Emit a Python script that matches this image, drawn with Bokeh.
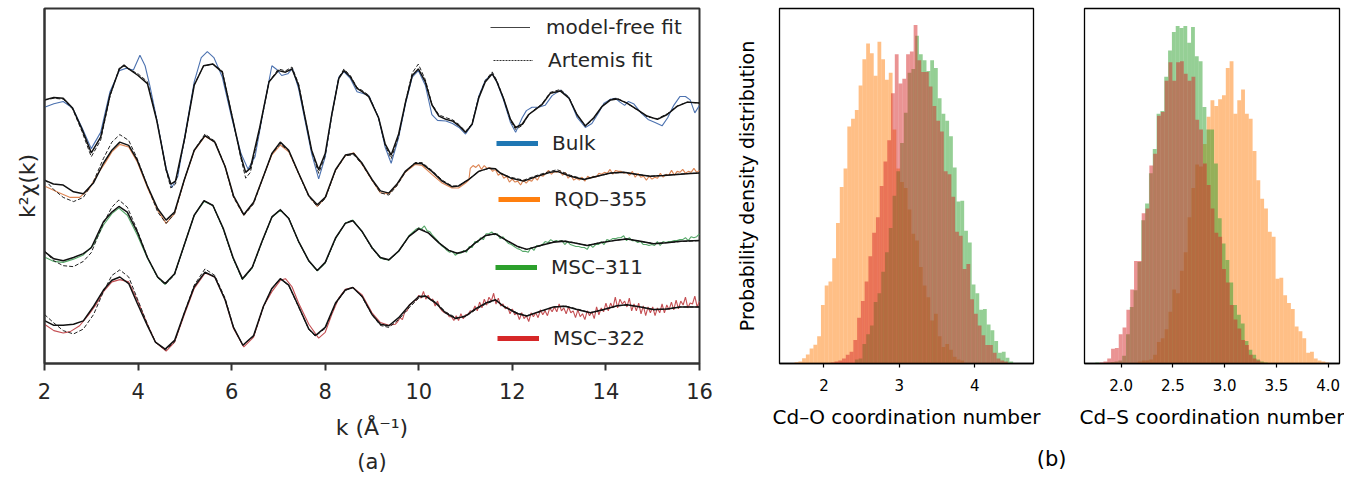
import numpy as np
from bokeh.plotting import figure
from bokeh.models import Legend, LegendItem, Title, FixedTicker, PrintfTickFormatter
from bokeh.layouts import row
from bokeh.embed import file_html
from bokeh.resources import INLINE

FONT = "DejaVu Sans"

# ---------------- panel (a): k^2 chi(k) spectra (arbitrary units) ----------------
offsets = {"Bulk": 26.4, "RQD-355": 19.4, "MSC-311": 12.4, "MSC-322": 5.6}

bulk_k = [2.0, 2.2, 2.4, 2.6, 2.8, 3.0, 3.2, 3.4, 3.6, 3.7, 3.8, 4.0, 4.2, 4.4, 4.6, 4.7, 4.8, 5.0, 5.2, 5.4,
          5.6, 5.8, 6.0, 6.2, 6.3, 6.4, 6.6, 6.8, 7.0, 7.15, 7.29, 7.43, 7.57, 7.71, 7.86, 8.0, 8.14, 8.29, 8.4, 8.54,
          8.68, 8.79, 8.93, 9.14, 9.28, 9.41, 9.57, 9.72, 9.86, 9.99, 10.14, 10.28, 10.43, 10.58, 10.72, 10.86, 11.0,
          11.14, 11.28, 11.42, 11.57, 11.67, 11.81, 11.96, 12.07, 12.21, 12.35, 12.49, 12.63, 12.81, 13.03, 13.21,
          13.38, 13.56, 13.74, 13.92, 14.1, 14.24, 14.45, 14.67, 14.88, 15.1, 15.31, 15.52, 15.74, 16.0]
bulk_fit = [0.63, 0.87, 0.8, -0.2, -2.37, -4.8, -3.2, 1.13, 3.8, 4.2, 3.8, 3.13, 2.3, -1.5, -6.5, -8.0, -7.7, -3.2,
            2.13, 4.13, 4.3, 3.47, -0.87, -5.2, -6.8, -6.37, -2.2, 2.5, 3.63, 3.47, 3.8, 2.13, -1.2, -4.53, -6.53,
            -4.87, -0.87, 2.8, 3.63, 2.97, 1.8, 1.47, 0.97, -1.2, -3.87, -5.03, -2.87, 0.47, 3.13, 3.8, 2.47, 0.13,
            -1.03, -1.37, -1.53, -2.03, -2.7, -1.87, 0.8, 2.47, 3.3, 2.47, 0.8, -1.37, -2.2, -1.87, -0.87, -0.37,
            0.13, 1.3, 1.53, 0.8, -0.87, -2.03, -1.2, -0.03, 0.63, 0.73, 0.3, -0.37, -1.03, -1.37, -0.87, -0.03,
            0.4, 0.3]
bulk_art = [0.6, 0.8, 0.7, -0.3, -2.6, -5.2, -3.5, 1.0, 3.9, 4.1, 3.8, 3.3, 2.5, -1.4, -6.6, -8.4, -8.0, -3.3, 2.2,
            4.1, 4.3, 3.6, -0.8, -5.4, -7.4, -6.8, -2.4, 2.5, 3.8, 3.6, 4.0, 2.3, -1.2, -4.6, -6.9, -5.1, -1.0, 2.9,
            3.8, 3.1, 1.9, 1.6, 1.1, -1.2, -4.0, -5.4, -3.1, 0.5, 3.4, 4.3, 2.7, 0.2, -0.9, -1.2, -1.4, -1.9, -2.6,
            -1.8, 0.9, 2.6, 3.5, 2.6, 0.8, -1.5, -2.4, -2.0, -0.9, -0.3, 0.2, 1.4, 1.7, 0.9, -0.9, -2.1, -1.3, 0.0,
            0.7, 0.8, 0.3, -0.4, -1.1, -1.3, -0.8, 0.0, 0.4, 0.3]
bulk_data_k = [2.0, 2.2, 2.4, 2.6, 2.8, 3.0, 3.2, 3.4, 3.6, 3.75, 3.9, 4.04, 4.15, 4.25, 4.4, 4.6, 4.72, 4.85, 5.0,
               5.2, 5.35, 5.48, 5.62, 5.8, 6.0, 6.2, 6.35, 6.5, 6.7, 6.86, 6.95, 7.07, 7.2, 7.3, 7.43, 7.57, 7.71,
               7.86, 8.0, 8.14, 8.29, 8.4, 8.54, 8.68, 8.79, 8.93, 9.14, 9.28, 9.41, 9.57, 9.72, 9.86, 9.99, 10.14,
               10.28, 10.4, 10.58, 10.72, 10.86, 11.0, 11.14, 11.28, 11.42, 11.57, 11.67, 11.81, 11.96, 12.07, 12.21,
               12.3, 12.42, 12.56, 12.7, 12.85, 13.03, 13.21, 13.38, 13.56, 13.7, 13.85, 13.96, 14.1, 14.2, 14.3,
               14.4, 14.48, 14.6, 14.75, 14.9, 15.05, 15.2, 15.32, 15.45, 15.58, 15.7, 15.8, 15.9, 16.0]
bulk_data = [-0.13, 0.23, 0.47, -0.2, -2.2, -4.37, -2.7, 1.47, 3.63, 3.87, 3.7, 5.2, 4.13, 2.13, -1.37, -6.37, -8.37,
             -7.2, -3.03, 2.47, 4.97, 5.57, 4.97, 2.97, -1.2, -4.87, -6.47, -5.2, 0.13, 4.13, 3.8, 3.13, 3.3, 3.87,
             1.8, -1.53, -4.87, -7.47, -5.2, -0.87, 2.97, 3.53, 2.8, 1.47, 1.3, 1.07, -1.2, -4.2, -5.87, -3.2, 0.3,
             2.97, 3.63, 2.13, -0.87, -1.47, -1.53, -1.8, -2.2, -2.87, -1.87, 0.97, 2.63, 3.3, 2.47, 0.63, -1.7,
             -2.7, -1.2, -0.47, -0.13, -0.13, 0.07, 1.07, 1.63, 0.87, -1.13, -2.2, -1.8, -0.63, 0.3, 0.7, 0.8, 0.4,
             0.07, 0.47, 0.2, -0.7, -1.37, -1.7, -2.03, -1.2, 0.07, 0.97, 0.97, 0.63, -0.7, 0.07]

rqd_k = [2.0, 2.19, 2.4, 2.62, 2.83, 3.05, 3.26, 3.44, 3.61, 3.8, 3.98, 4.2, 4.42, 4.6, 4.78, 4.99, 5.2, 5.43, 5.64,
         5.86, 6.04, 6.26, 6.47, 6.68, 6.86, 7.04, 7.22, 7.43, 7.65, 7.83, 8.0, 8.22, 8.43, 8.61, 8.79, 9.0, 9.18,
         9.36, 9.53, 9.71, 9.92, 10.07, 10.28, 10.5, 10.71, 10.85, 11.07, 11.28, 11.5, 11.64, 11.74, 11.96, 12.24,
         12.53, 12.81, 12.96, 13.24, 13.53, 13.81, 14.1, 14.38, 14.67, 14.95, 15.24, 15.52, 15.81, 16.0]
rqd_fit = [-0.6, -1.0, -1.1, -1.8, -2.0, -0.87, 1.13, 2.47, 3.3, 2.97, 1.47, -1.2, -3.53, -4.7, -3.87, -0.53, 2.47,
           3.97, 3.3, 0.8, -2.2, -4.13, -2.87, -0.2, 2.13, 3.3, 2.47, 0.13, -2.2, -3.13, -2.37, 0.47, 1.97, 2.13,
           1.13, -0.53, -1.7, -1.93, -1.03, 0.3, 1.13, 1.07, 0.3, -0.7, -1.27, -1.2, -0.53, 0.3, 0.63, 0.57, 0.13,
           -0.37, -0.7, -0.2, 0.2, 0.3, -0.2, -0.53, -0.2, 0.13, 0.2, -0.03, -0.2, -0.13, -0.03, 0.07, 0.13]
rqd_art = [-0.53, -1.53, -2.37, -2.8, -2.37, -0.7, 1.63, 3.3, 4.07, 3.47, 1.63, -1.2, -3.87, -5.03, -4.03, -0.53,
           2.47, 4.13, 3.4, 0.8, -2.37, -4.23, -3.03, -0.2, 2.1, 3.1, 2.4, 0.1, -2.3, -3.3, -2.5, 0.4, 1.9, 2.0, 1.0,
           -0.6, -1.9, -2.13, -1.2, 0.2, 1.2, 1.2, 0.4, -0.6, -1.2, -1.2, -0.5, 0.3, 0.6, 0.5, 0.1, -0.3, -0.6,
           -0.1, 0.3, 0.47, -0.1, -0.5, -0.2, 0.1, 0.2, 0.0, -0.2, -0.1, 0.0, 0.1, 0.1]
rqd_data_k = [2.0, 2.3, 2.55, 2.75, 2.95, 3.15, 3.3, 3.44, 3.61, 3.8, 3.98, 4.2, 4.42, 4.6, 4.78, 4.99, 5.2, 5.43,
              5.64, 5.86, 6.04, 6.26, 6.47, 6.68, 6.86, 7.04, 7.22, 7.43, 7.65, 7.83, 8.0, 8.22, 8.43, 8.61, 8.79,
              9.0, 9.18, 9.36, 9.53, 9.71, 9.92, 10.07, 10.28, 10.5, 10.71, 10.85, 11.0, 11.07]
rqd_data = [-1.2, -1.87, -2.37, -2.37, -1.53, 0.13, 1.2, 2.3, 3.07, 2.8, 1.3, -1.37, -3.7, -5.03, -4.03, -0.6, 2.4,
            3.9, 3.3, 0.8, -2.3, -4.2, -2.9, -0.2, 2.0, 3.0, 2.3, 0.1, -2.2, -3.3, -2.4, 0.4, 1.9, 2.2, 1.0, -0.6,
            -1.9, -2.0, -1.1, 0.2, 1.0, 0.9, 0.0, -0.9, -1.4, -1.4, -0.9, -0.6]
# noisy high-k part, evenly sampled from 11.1 to 16.0
rqd_noisy = [0.6, 0.9, 0.7, 1.0, 0.5, 0.9, 0.6, 0.7, 0.3, 0.5, -0.1, 0.1, -0.4, -0.2, -0.8, -0.5, -0.8, -0.7, -1.1,
             -0.6, -0.9, -0.6, -0.7, -0.3, -0.6, -0.1, -0.2, 0.1, 0.4, 0.0, 0.3, 0.2, 0.4, -0.1, 0.2, -0.4, -0.1,
             -0.6, -0.4, -0.6, -0.3, -0.7, -0.2, -0.4, -0.2, -0.3, 0.1, 0.0, 0.2, 0.1, 0.5, 0.0, 0.4, 0.3, 0.3, 0.1,
             0.2, -0.1, 0.3, -0.3, 0.1, -0.3, -0.2, -0.6, -0.2, -0.5, -0.3, -0.4, 0.1, -0.3, 0.0, -0.1, 0.4, -0.1,
             0.3, 0.2, 0.5, 0.1, 0.3, 0.2, 0.6, 0.2, 0.4]

m311_k = [2.0, 2.2, 2.4, 2.62, 2.83, 3.0, 3.13, 3.26, 3.44, 3.59, 3.77, 3.98, 4.2, 4.42, 4.58, 4.78, 4.99, 5.2, 5.41,
          5.6, 5.82, 6.03, 6.23, 6.44, 6.65, 6.86, 7.04, 7.22, 7.43, 7.65, 7.83, 8.0, 8.22, 8.43, 8.59, 8.79, 9.0,
          9.18, 9.36, 9.57, 9.79, 10.0, 10.21, 10.43, 10.64, 10.82, 11.0, 11.21, 11.43, 11.64, 11.81, 12.1, 12.31,
          12.6, 12.88, 13.1, 13.31, 13.6, 13.88, 14.17, 14.45, 14.74, 15.02, 15.31, 15.59, 16.0]
m311_fit = [-0.93, -1.67, -1.87, -1.53, -1.13, -0.53, 0.8, 2.13, 3.13, 3.7, 3.13, 1.13, -1.53, -3.53, -4.2, -3.2,
            -0.2, 2.8, 4.3, 3.8, 1.47, -1.53, -3.7, -2.53, 0.13, 2.63, 3.37, 2.47, 0.13, -1.87, -2.87, -2.03, 0.47,
            1.97, 2.23, 1.13, -0.53, -1.53, -1.77, -0.87, 0.63, 1.4, 0.97, -0.03, -0.8, -1.1, -0.87, -0.03, 0.73,
            0.9, 0.4, -0.37, -0.7, -0.3, 0.03, 0.13, -0.03, -0.3, -0.03, 0.2, 0.37, 0.13, -0.13, -0.03, 0.13, 0.2]
m311_art = [-0.87, -1.87, -2.37, -2.47, -1.93, -1.03, 0.5, 1.97, 3.63, 4.37, 3.63, 1.3, -1.5, -3.6, -4.3, -3.3, -0.2,
            2.8, 4.3, 3.8, 1.4, -1.6, -3.8, -2.6, 0.1, 2.6, 3.4, 2.5, 0.1, -1.9, -2.9, -2.1, 0.4, 2.0, 2.3, 1.1,
            -0.6, -1.6, -1.8, -0.9, 0.6, 1.5, 1.0, 0.0, -0.8, -1.1, -0.9, 0.0, 0.7, 0.9, 0.4, -0.4, -0.7, -0.3, 0.1,
            0.2, 0.0, -0.3, 0.0, 0.2, 0.4, 0.1, -0.1, 0.0, 0.1, 0.2]
m311_data_k = [2.0, 2.2, 2.4, 2.62, 2.83, 3.05, 3.26, 3.44, 3.59, 3.77, 3.98, 4.2, 4.42, 4.58, 4.78, 4.99, 5.2,
               5.41, 5.6, 5.82, 6.03, 6.23, 6.44, 6.65, 6.86, 7.04, 7.22, 7.43, 7.65, 7.83, 8.0, 8.22, 8.43, 8.59,
               8.79, 9.0, 9.18, 9.36, 9.57, 9.79, 9.95]
m311_data = [-1.47, -1.93, -2.03, -1.7, -1.27, -0.2, 1.8, 2.97, 3.53, 2.8, 0.8, -1.6, -3.6, -4.3, -3.2, -0.2, 2.8,
             4.2, 3.8, 1.4, -1.6, -3.8, -2.6, 0.1, 2.6, 3.3, 2.5, 0.1, -1.9, -2.9, -2.1, 0.4, 2.0, 2.3, 1.1, -0.5,
             -1.6, -1.8, -0.9, 0.7, 1.4]
# noisy high-k part, evenly sampled from 10.0 to 16.0
m311_noisy = [1.5, 1.4, 1.7, 1.2, 1.1, 0.7, 0.4, 0.1, -0.3, -0.5, -0.8, -1.0, -0.9, -1.3, -1.1, -1.1, -0.8, -1.0,
              -0.4, -0.5, 0.1, 0.0, 0.5, 0.3, 0.9, 0.9, 1.1, 0.8, 0.9, 0.4, 0.6, 0.2, -0.1, -0.2, -0.4, -0.6, -0.7,
              -0.9, -0.9, -1.0, -0.5, -0.8, -0.3, -0.4, -0.2, 0.1, 0.0, 0.3, 0.1, 0.2, 0.1, 0.2, -0.2, 0.1, -0.2,
              -0.3, -0.4, -0.4, -0.5, -0.5, -0.7, -0.2, -0.5, -0.2, -0.2, 0.1, -0.2, 0.3, 0.2, 0.4, 0.4, 0.5, 0.5,
              0.7, 0.2, 0.5, 0.2, 0.2, 0.0, 0.1, -0.2, -0.2, -0.3, -0.2, -0.3, 0.1, -0.3, 0.1, 0.0, 0.1, 0.1, 0.2,
              0.2, 0.3, 0.3, 0.5, 0.2, 0.6, 0.5, 0.6, 0.9]

m322_k = [2.0, 2.19, 2.4, 2.62, 2.83, 3.05, 3.26, 3.44, 3.61, 3.8, 3.98, 4.2, 4.37, 4.58, 4.78, 4.99, 5.2, 5.43,
          5.64, 5.86, 6.04, 6.24, 6.47, 6.68, 6.86, 7.04, 7.22, 7.43, 7.65, 7.79, 8.0, 8.22, 8.43, 8.59, 8.79, 9.0,
          9.18, 9.36, 9.57, 9.79, 10.0, 10.14, 10.36, 10.57, 10.79, 11.0, 11.21, 11.43, 11.64, 11.81, 12.1, 12.31,
          12.6, 12.88, 13.13, 13.38, 13.67, 13.95, 14.24, 14.45, 14.74, 15.02, 15.31, 15.59, 16.0]
m322_fit = [-1.2, -1.67, -1.67, -1.57, -1.23, 0.27, 1.93, 2.93, 3.27, 2.6, 0.6, -1.73, -3.4, -4.13, -3.23, -0.4,
            2.27, 3.77, 3.27, 0.93, -1.9, -3.73, -2.73, 0.27, 2.1, 3.1, 2.43, 0.27, -2.07, -2.73, -1.9, 0.6, 1.93,
            2.2, 1.27, -0.57, -1.57, -1.73, -0.9, 0.33, 1.27, 1.33, 0.6, -0.4, -1.0, -0.73, 0.0, 0.6, 0.93, 0.27,
            -0.47, -0.73, -0.23, 0.2, 0.27, -0.07, -0.4, -0.07, 0.33, 0.43, 0.2, -0.07, 0.0, 0.2, 0.2]
m322_art = [-0.57, -1.4, -2.23, -2.57, -2.07, -0.57, 1.77, 3.43, 4.0, 3.27, 1.1, -1.57, -3.4, -4.23, -3.4, -0.4, 2.43,
            4.1, 3.43, 1.1, -1.9, -3.73, -2.8, 0.2, 2.1, 3.1, 2.4, 0.2, -2.1, -2.8, -2.0, 0.5, 1.9, 2.2, 1.2, -0.6,
            -1.7, -1.9, -1.1, 0.1, 1.1, 1.3, 0.7, -0.3, -0.9, -0.8, -0.1, 0.5, 0.9, 0.3, -0.4, -0.7, -0.3, 0.2, 0.3,
            0.0, -0.4, -0.1, 0.3, 0.4, 0.2, -0.1, 0.0, 0.2, 0.2]
m322_data_k = [2.0, 2.2, 2.4, 2.55, 2.75, 2.95, 3.1, 3.26, 3.44, 3.61, 3.8, 3.98, 4.2, 4.37, 4.6, 4.78, 4.99, 5.2,
               5.43, 5.64, 5.86, 6.04, 6.26, 6.47, 6.68, 6.86, 7.04, 7.15, 7.29, 7.43, 7.65, 7.86, 8.0, 8.14, 8.29,
               8.43, 8.59, 8.79, 9.0, 9.18, 9.36, 9.5]
m322_data = [-1.57, -2.23, -2.47, -2.33, -1.73, -0.57, 0.43, 1.77, 2.77, 3.0, 2.77, 0.93, -1.57, -3.4, -4.33, -3.4,
             -0.57, 2.1, 3.67, 3.27, 0.93, -2.0, -3.9, -2.9, 0.27, 1.77, 2.93, 3.1, 2.27, 0.6, -1.57, -3.0, -2.4,
             -0.57, 1.1, 2.0, 2.2, 1.43, -0.4, -1.4, -1.67, -1.57]
# noisy high-k part, evenly sampled from 9.55 to 16.0
m322_noisy = [-1.3, -0.9, -1.1, -0.3, -0.2, 0.4, 0.6, 0.8, 0.9, 1.4, 1.1, 1.8, 1.0, 1.4, 0.9, 1.0, 0.3, 0.8, 0.1,
              -0.2, -0.4, -0.4, -0.8, -0.8, -1.2, -0.7, -1.2, -0.5, -1.0, -0.6, -0.6, -0.2, -0.3, 0.3, -0.2, 0.7,
              0.1, 1.0, 0.4, 1.2, 0.8, 1.6, 0.5, 1.1, 0.3, 0.5, 0.0, 0.2, -0.5, 0.0, -0.6, -0.4, -1.1, -0.4, -1.0,
              -0.7, -1.3, -0.4, -0.8, -0.4, -0.9, -0.1, -0.6, -0.2, -0.7, 0.1, -0.3, 0.2, -0.3, 0.5, -0.2, 0.1,
              -0.5, 0.2, -0.4, -0.2, -0.9, -0.1, -0.8, -0.5, -1.1, -0.2, -0.7, -0.3, -1.0, 0.2, -0.6, 0.1, -0.3,
              0.6, -0.2, 0.6, 0.1, 1.2, 0.1, 1.0, 0.5, 0.8, 0.2, 1.1, -0.2, 0.5, -0.2, 0.6, -0.5, 0.3, -0.7, 0.2,
              -0.4, 0.2, -0.7, 0.1, -0.4, 0.5, -0.4, 0.4, -0.1, 0.7, -0.1, 0.9, 0.0, 0.8, 0.4, 1.2, 0.1, 0.6, 0.5,
              1.3, 0.2, 0.8]

# ---------------- panel (b): posterior histograms (arbitrary density units) ----------------
cdo_width = 0.05
cdo_rqd_start, cdo_rqd = 1.61, [1.3, 2, 5.3, 9.3, 15.3, 19.3, 28, 60, 80, 84, 108, 144, 181, 200, 243, 251, 260, 285,
                               312, 328, 318, 295, 330, 312, 291, 298, 240, 200, 186, 180, 158, 133, 126, 99, 80,
                               68, 44, 51, 28, 17, 20, 14, 7, 4, 3]
cdo_311_start, cdo_311 = 2.41, [4, 5, 20, 30, 39, 63, 72, 94, 114, 139, 172, 197, 226, 257, 298, 302, 336, 317, 311,
                               300, 311, 303, 272, 256, 249, 233, 201, 166, 167, 136, 124, 81, 72, 55, 56, 40, 34,
                               23, 11, 12, 6, 2]
cdo_322_start, cdo_322 = 2.09, [1, 2, 3, 5, 9, 12, 24, 47, 64, 84, 110, 134, 150, 182, 207, 229, 277, 317, 287, 292,
                               317, 320, 347, 311, 299, 299, 284, 264, 249, 238, 197, 194, 171, 135, 131, 97, 102,
                               66, 51, 39, 29, 19, 19, 11, 5, 3, 2]
cds_width = 0.037
cds_rqd_start, cds_rqd = 2.16, [2, 3, 3, 4, 9, 22, 26, 35, 53, 76, 72, 95, 114, 150, 180, 204, 202, 225, 253, 270,
                               264, 271, 275, 303, 310, 256, 270, 281, 256, 251, 218, 188, 169, 159, 135, 130, 87,
                               88, 70, 62, 56, 38, 33, 26, 11, 12, 5, 3, 2, 1]
cds_311_start, cds_311 = 1.75, [1, 0.5, 0.5, 1, 1.5, 2, 3, 8, 30, 58, 75, 104, 147, 164, 195, 220, 256, 259, 294, 321,
                               340, 346, 344, 346, 329, 345, 315, 310, 263, 240, 240, 205, 149, 123, 106, 83, 60, 50,
                               41, 23, 14, 9, 4, 2, 1]
cds_322_start, cds_322 = 1.791, [1, 2, 5, 15, 16, 30, 37, 55, 76, 105, 105, 154, 159, 203, 215, 254, 258, 290, 309,
                                290, 309, 310, 297, 290, 294, 250, 240, 205, 183, 159, 134, 130, 97, 83, 60, 45, 36,
                                24, 19, 9, 5, 3, 1]

# colours
data_col = {"Bulk": "#4c72b0", "RQD-355": "#dd8452", "MSC-311": "#55a868", "MSC-322": "#c44e52"}
tab = {"Bulk": "#1f77b4", "RQD-355": "#ff7f0e", "MSC-311": "#2ca02c", "MSC-322": "#d62728"}
AX = "#333333"

# =============== figure (a) ===============
pa = figure(width=725, height=484, x_range=(2, 16), y_range=(0, 36.4), output_backend="svg",
            toolbar_location=None, min_border_left=44, min_border_right=26, min_border_top=8,
            min_border_bottom=112)
pa.grid.visible = False
pa.outline_line_color = AX
pa.outline_line_width = 2
pa.background_fill_color = "white"

series = [
    ("Bulk", bulk_k, bulk_fit, bulk_art, [(bulk_data_k, bulk_data)]),
    ("RQD-355", rqd_k, rqd_fit, rqd_art, [(rqd_data_k + list(np.linspace(11.1, 16.0, len(rqd_noisy))),
                                          rqd_data + rqd_noisy)]),
    ("MSC-311", m311_k, m311_fit, m311_art, [(m311_data_k + list(np.linspace(10.0, 16.0, len(m311_noisy))),
                                              m311_data + m311_noisy)]),
    ("MSC-322", m322_k, m322_fit, m322_art, [(m322_data_k + list(np.linspace(9.55, 16.0, len(m322_noisy))),
                                              m322_data + m322_noisy)]),
]
for name, k, fit, art, datas in series:
    off = offsets[name]
    for dk, dv in datas:
        pa.line(dk, np.array(dv) + off, line_color=data_col[name], line_width=1.1)
    pa.line(k, np.array(art) + off, line_color="#222222", line_width=1.0, line_dash="4 2")
    pa.line(k, np.array(fit) + off, line_color="#111111", line_width=1.5)

pa.xaxis.ticker = FixedTicker(ticks=[2, 4, 6, 8, 10, 12, 14, 16])
pa.xaxis.axis_label = "k (Å⁻¹)"
pa.xaxis.axis_label_text_font = FONT
pa.xaxis.axis_label_text_font_size = "22px"
pa.xaxis.axis_label_text_font_style = "normal"
pa.xaxis.axis_label_text_color = "#262626"
pa.xaxis.axis_label_standoff = 13
pa.xaxis.major_label_text_font = FONT
pa.xaxis.major_label_text_font_size = "21px"
pa.xaxis.major_label_text_color = "#262626"
pa.xaxis.major_label_standoff = 12
pa.xaxis.major_tick_out = 7
pa.xaxis.major_tick_in = 0
pa.xaxis.major_tick_line_width = 2
pa.xaxis.major_tick_line_color = AX
pa.xaxis.minor_tick_line_color = None
pa.xaxis.axis_line_color = AX
pa.xaxis.axis_line_width = 2

pa.yaxis.ticker = FixedTicker(ticks=[])
pa.yaxis.axis_label = "k²χ(k)"
pa.yaxis.axis_label_text_font = FONT
pa.yaxis.axis_label_text_font_size = "22px"
pa.yaxis.axis_label_text_font_style = "normal"
pa.yaxis.axis_label_text_color = "#262626"
pa.yaxis.axis_label_standoff = 5
pa.yaxis.major_tick_line_color = None
pa.yaxis.minor_tick_line_color = None
pa.yaxis.axis_line_color = AX
pa.yaxis.axis_line_width = 2


def add_item(p, label, renderers, x, y, gw, standoff):
    lg = Legend(items=[LegendItem(label=label, renderers=renderers)], location=(x, y),
                border_line_color=None, background_fill_alpha=0, padding=0, margin=0,
                glyph_width=gw, glyph_height=20, label_height=20, label_standoff=standoff,
                label_text_font=FONT, label_text_font_size="20px", label_text_color="#262626")
    p.add_layout(lg)


# legend handles: drawn outside the visible data window, used only for the legend glyphs
hx, hy = [-5, -4], [-5, -5]
r_mf = pa.line(hx, hy, line_color="#444444", line_width=1.2)
r_ar = pa.line(hx, hy, line_color="#333333", line_width=1.0, line_dash="2 1")
add_item(pa, "model-free fit", [r_mf], 446, 324, 40, 16)
add_item(pa, "Artemis fit", [r_ar], 449, 291, 40, 15)
leg_pos = {"Bulk": (452, 208), "RQD-355": (454, 152), "MSC-311": (451, 84), "MSC-322": (453, 13)}
for name in ["Bulk", "RQD-355", "MSC-311", "MSC-322"]:
    r = pa.line(hx, hy, line_color=tab[name], line_width=5)
    add_item(pa, name.replace("-", "–"), [r], leg_pos[name][0], leg_pos[name][1], 42, 14)

pa.add_layout(Title(text="(a)", align="center", text_font=FONT, text_font_size="21px",
                    text_font_style="normal", text_color="#262626", standoff=10), "below")


# =============== figures (b) ===============
def hist_fig(width, xr, bl, br, ylabel, xlabel, ticks, fmt):
    p = figure(width=width, height=484, x_range=xr, y_range=(0, 364), output_backend="svg",
               toolbar_location=None, min_border_left=bl, min_border_right=br, min_border_top=8,
               min_border_bottom=112)
    p.grid.visible = False
    p.outline_line_color = "black"
    p.outline_line_width = 1.3
    p.xaxis.ticker = FixedTicker(ticks=ticks)
    if fmt:
        p.xaxis.formatter = PrintfTickFormatter(format=fmt)
    p.xaxis.axis_label = xlabel
    p.xaxis.axis_label_text_font = FONT
    p.xaxis.axis_label_text_font_size = "20px"
    p.xaxis.axis_label_text_font_style = "normal"
    p.xaxis.axis_label_text_color = "black"
    p.xaxis.axis_label_standoff = 11
    p.xaxis.major_label_text_font = FONT
    p.xaxis.major_label_text_font_size = "15px"
    p.xaxis.major_label_text_color = "black"
    p.xaxis.major_label_standoff = 11
    p.xaxis.major_tick_out = 4
    p.xaxis.major_tick_in = 0
    p.xaxis.major_tick_line_width = 1.2
    p.xaxis.minor_tick_line_color = None
    p.xaxis.axis_line_color = "black"
    p.xaxis.axis_line_width = 1.3
    if ylabel:
        p.yaxis.ticker = FixedTicker(ticks=[])
        p.yaxis.axis_label = ylabel
        p.yaxis.axis_label_text_font = FONT
        p.yaxis.axis_label_text_font_size = "19px"
        p.yaxis.axis_label_text_font_style = "normal"
        p.yaxis.axis_label_text_color = "black"
        p.yaxis.axis_label_standoff = 22
        p.yaxis.major_tick_line_color = None
        p.yaxis.minor_tick_line_color = None
        p.yaxis.axis_line_color = "black"
    else:
        p.yaxis.visible = False
    return p


def bars(p, start, w, heights, color):
    lefts = start + w * np.arange(len(heights))
    p.quad(left=lefts, right=lefts + w, bottom=0, top=heights, fill_color=color, fill_alpha=0.5,
           line_color=None)


pb1 = hist_fig(348, (1.41, 4.78), 54, 40, "Probability density distribution", "Cd–O coordination number",
               [2, 3, 4], None)
bars(pb1, cdo_rqd_start, cdo_width, cdo_rqd, tab["RQD-355"])
bars(pb1, cdo_311_start, cdo_width, cdo_311, tab["MSC-311"])
bars(pb1, cdo_322_start, cdo_width, cdo_322, tab["MSC-322"])
pb1.add_layout(Title(text="(b)", align="right", offset=-33, text_font=FONT, text_font_size="21px",
                     text_font_style="normal", text_color="black", standoff=27), "below")

pb2 = hist_fig(271, (1.645, 4.11), 11, 5, None, "Cd–S coordination number", [2.0, 2.5, 3.0, 3.5, 4.0], "%.1f")
bars(pb2, cds_rqd_start, cds_width, cds_rqd, tab["RQD-355"])
bars(pb2, cds_311_start, cds_width, cds_311, tab["MSC-311"])
bars(pb2, cds_322_start, cds_width, cds_322, tab["MSC-322"])

layout = row(pa, pb1, pb2, spacing=0)
open("out.html", "w").write(file_html(layout, INLINE))
